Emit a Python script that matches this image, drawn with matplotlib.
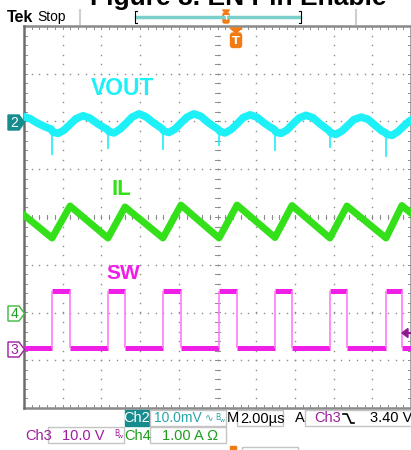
import numpy as np
import matplotlib.pyplot as plt
from matplotlib.patches import Polygon, Rectangle, FancyBboxPatch

# scope settings
t_div = 2.0                         # us / div
ch2_scale, ch2_pos = 10.0, 2.0      # mV / div  (VOUT, AC)
ch3_scale, ch3_pos = 10.0, -2.75    # V / div   (SW)
ch4_scale, ch4_pos = 1.0, -2.0      # A / div   (IL)

# SW (Ch3): edge times in us from left of screen
sw_rise = [1.45, 4.34, 7.18, 10.08, 12.97, 15.81, 18.71]
sw_fall = [2.38, 5.22, 8.11, 11.01, 13.85, 16.69, 19.53]
sw_high = 11.9
sw_low = 0.0

# IL (Ch4), A
il_t = [0.0, 1.45, 2.38, 4.34, 5.22, 7.18, 8.11, 10.08, 11.01, 12.97, 13.85,
        15.81, 16.69, 18.71, 19.53, 20.0]
il_a = [2.04, 1.56, 2.23, 1.56, 2.21, 1.56, 2.25, 1.56, 2.25, 1.57, 2.24,
        1.56, 2.23, 1.56, 2.24, 2.08]

# VOUT (Ch2), mV ripple
vout_t = [0.00, 0.31, 0.72, 1.14, 1.40, 1.50, 1.76, 2.07, 2.38, 2.69, 3.05, 3.41, 3.78, 4.14,
          4.29, 4.39, 4.65, 4.96, 5.27, 5.58, 5.94, 6.30, 6.67, 7.03,
          7.13, 7.23, 7.49, 7.80, 8.11, 8.42, 8.78, 9.14, 9.51, 9.87,
          10.03, 10.13, 10.39, 10.70, 11.01, 11.32, 11.68, 12.04, 12.41, 12.77,
          12.92, 13.02, 13.28, 13.59, 13.90, 14.21, 14.57, 14.93, 15.30, 15.66,
          15.76, 15.86, 16.12, 16.43, 16.74, 17.05, 17.41, 17.77, 18.14, 18.50,
          18.66, 18.76, 19.02, 19.33, 19.64, 19.95, 20.0]
vout_mv = [1.0, 0.6, -0.4, -1.2, -1.6, -2.2, -2.5, -1.8, -0.6, 0.6, 1.2, 0.7, -0.4, -1.3,
           -1.6, -2.1, -2.4, -1.6, -0.4, 0.9, 1.6, 1.0, -0.2, -1.2,
           -1.5, -2.0, -2.3, -1.6, -0.3, 0.9, 1.6, 1.1, -0.2, -1.2,
           -1.6, -2.1, -2.4, -1.7, -0.5, 0.8, 1.4, 0.9, -0.3, -1.3,
           -1.6, -2.2, -2.5, -1.8, -0.5, 0.7, 1.3, 0.8, -0.5, -1.6,
           -1.9, -2.4, -2.7, -2.0, -0.8, 0.4, 0.9, 0.5, -0.8, -2.0,
           -2.3, -2.7, -2.9, -2.1, -0.9, 0.2, 0.3]
# switching spikes on VOUT
spike_t = sw_rise
spike_mv = [-7.0, -5.8, -6.0, -5.2, -6.2, -5.6, -7.5]

cyan = '#1ef0f8'
green = '#33e01a'
magenta = '#f01ee6'
teal = '#178c8e'
purple = '#a01ca0'
dgreen = '#1e9e1e'
orange = '#f27a12'

fig = plt.figure(figsize=(4.11, 4.5), dpi=100)
fig.patch.set_facecolor('white')

# graticule: 10 x 8 divisions
ax = fig.add_axes([24 / 411, 42 / 450, 387 / 411, 382 / 450])
ax.set_xlim(0, 10)
ax.set_ylim(-4, 4)
ax.axis('off')

gcol = '#8c8c8c'
dx = np.arange(0, 10.001, 0.2)
dy = np.arange(-4, 4.001, 0.2)
for y in range(-3, 4):
    ax.plot(dx, np.full(len(dx), y), ls='none', marker='s', ms=1.0, mew=0, color=gcol)
for x in range(1, 10):
    ax.plot(np.full(len(dy), x), dy, ls='none', marker='s', ms=1.0, mew=0, color=gcol)
# center cross ticks
for x in dx:
    ax.plot([x, x], [-0.05, 0.05], color=gcol, lw=0.7)
for y in dy:
    ax.plot([4.93, 5.07], [y, y], color=gcol, lw=0.7)
# border ticks
for x in dx:
    ax.plot([x, x], [4, 3.94], color=gcol, lw=0.7, clip_on=False)
    ax.plot([x, x], [-4, -3.94], color=gcol, lw=0.7, clip_on=False)
for y in dy:
    ax.plot([0, 0.07], [y, y], color=gcol, lw=0.7, clip_on=False)
    ax.plot([10, 9.93], [y, y], color=gcol, lw=0.7, clip_on=False)
ax.plot([0, 10], [4, 4], color='#8a8a8a', lw=1.8, clip_on=False)
ax.plot([0, 10], [-4, -4], color='#8a8a8a', lw=1.8, clip_on=False)
ax.plot([0, 0], [-4, 4], color='#6e6e6e', lw=1.8, clip_on=False)
ax.plot([10, 10], [-4, 4], color='#8a8a8a', lw=1.8, clip_on=False)

# traces
t = np.array(vout_t) / t_div
ax.plot(t, np.array(vout_mv) / ch2_scale + ch2_pos, color=cyan, lw=5.5, solid_joinstyle='round')
ax.vlines(np.array(spike_t) / t_div, np.array(spike_mv) / ch2_scale + ch2_pos, ch2_pos - 0.2,
          color=cyan, lw=1.2)

ax.plot(np.array(il_t) / t_div, np.array(il_a) / ch4_scale + ch4_pos, color=green, lw=5,
        solid_joinstyle='round')

hi = sw_high / ch3_scale + ch3_pos
lo = sw_low / ch3_scale + ch3_pos
edges = [0.0] + sorted(sw_rise + sw_fall) + [20.0]
for i in range(len(edges) - 1):
    lev = lo if i % 2 == 0 else hi
    ax.plot([edges[i] / t_div, edges[i + 1] / t_div], [lev, lev], color=magenta, lw=3.6,
            solid_capstyle='butt')
ax.vlines(np.array(sw_rise + sw_fall) / t_div, lo, hi, color='#ff7cf6', lw=1.2)

# overlay in pixel coordinates
ov = fig.add_axes([0, 0, 1, 1])
ov.set_xlim(0, 411)
ov.set_ylim(450, 0)
ov.axis('off')

ov.text(90, 5, 'Figure 8. EN Pin Enable', fontsize=19, fontweight='bold',
        family='Liberation Sans', va='baseline', ha='left')
ov.text(7, 21.5, 'Tek', fontsize=11.5, fontweight='bold', family='Liberation Sans', va='baseline')
ov.text(37, 21, 'Stop', fontsize=10, family='Liberation Sans', va='baseline')

# record bar
ov.plot([80, 80], [10, 24], color='#cfcfcf', lw=1.5)
ov.plot([356, 356], [10, 24], color='#cfcfcf', lw=1.5)
ov.plot([136, 300], [16.5, 16.5], color='#7cd0cc', lw=2.5)
ov.plot([137, 135, 135, 137], [11, 11, 23, 23], color='k', lw=0.8)
ov.plot([299, 301, 301, 299], [11, 11, 23, 23], color='k', lw=0.8)
ov.add_patch(Polygon([[222.5, 10], [229.5, 10], [226, 13]], color=orange))
ov.add_patch(FancyBboxPatch((223, 13), 6, 10, boxstyle='round,pad=0,rounding_size=1.5',
                            color=orange))
ov.text(226, 18.5, 'T', color='white', fontsize=5, fontweight='bold', ha='center', va='center')

# trigger marker
ov.add_patch(Polygon([[230, 28], [242, 28], [236, 33]], color=orange))
ov.add_patch(FancyBboxPatch((230.5, 33), 11, 14.5, boxstyle='round,pad=0,rounding_size=2.5',
                            color=orange))
ov.text(236, 40.5, 'T', color='white', fontsize=8, fontweight='bold', ha='center', va='center')

# trigger level arrow
ov.add_patch(Polygon([[402, 333], [408, 328.5], [408, 337.5]], color='#8e1a8e'))
ov.plot([406, 411], [333, 333], color='#8e1a8e', lw=1.5)

# channel markers
def marker(yc, label, edge, fill, tcol):
    pts = [[8, yc - 7.5], [19, yc - 7.5], [24.5, yc], [19, yc + 7.5], [8, yc + 7.5]]
    ov.add_patch(Polygon(pts, closed=True, facecolor=fill, edgecolor=edge, lw=1))
    ov.text(14.5, yc + 0.5, label, color=tcol, fontsize=10, ha='center', va='center',
            family='Liberation Sans')

marker(122.5, '2', teal, teal, 'white')
marker(313.5, '4', '#3fb83f', 'white', dgreen)
marker(349.5, '3', purple, 'white', purple)

# trace labels
lab = dict(fontweight='bold', va='baseline', ha='left', family='Liberation Sans')
ov.text(91, 95, 'VOUT', color=cyan, fontsize=16.5, **lab)
ov.text(111, 195, 'IL', color=green, fontsize=16, **lab)
ov.text(106, 279, 'SW', color=magenta, fontsize=15, **lab)

# status readouts
st = dict(fontsize=10.5, va='center', family='Liberation Sans')
box = dict(fill=False, edgecolor='#c4c4c4', lw=1)
ov.add_patch(Rectangle((125, 410), 24, 16, color=teal))
ov.text(137, 418.5, 'Ch2', color='white', ha='center', **st)
ov.add_patch(Rectangle((150, 410), 76, 16, **box))
ov.text(154, 418.5, '10.0mV', color='#2aa5a8', fontsize=10, va='center', family='Liberation Sans')
ov.text(205, 418.5, '\u223f', color='#2aa5a8', fontsize=7.5, va='center', family='DejaVu Sans')
ov.text(215.5, 418, 'B', color='#2aa5a8', fontsize=5.5, va='center')
ov.text(219.5, 421, 'w', color='#2aa5a8', fontsize=4.5, va='center')
ov.text(226.5, 418.5, 'M', color='k', **st)
ov.add_patch(Rectangle((237, 410), 46, 16, **box))
ov.text(240, 418.5, '2.00\u00b5s', color='k', **st)
ov.text(295, 418.5, 'A', color='k', **st)
ov.add_patch(Rectangle((305, 410), 110, 16, **box))
ov.text(314, 418.5, 'Ch3', color=purple, **st)
ov.plot([343, 347, 351, 354], [414, 414, 423, 423], color='k', lw=1.2)
ov.text(412, 418.5, '3.40 V', color='k', ha='right', **st)

ov.text(25, 435.5, 'Ch3', color=purple, **st)
ov.add_patch(Rectangle((48, 427), 76, 16, **box))
ov.text(62, 435.5, '10.0 V', color=purple, **st)
ov.text(114, 434, 'B', color=purple, fontsize=5.5, va='center')
ov.text(118, 437, 'w', color=purple, fontsize=4.5, va='center')
ov.text(124, 435.5, 'Ch4', color=dgreen, **st)
ov.add_patch(Rectangle((150, 427), 76, 16, **box))
ov.text(162, 435.5, '1.00 A \u03a9', color=dgreen, **st)

ov.add_patch(Rectangle((230, 446), 6, 6, color=orange))
ov.add_patch(Rectangle((242, 446.5), 56, 6, **box))

fig.savefig('out.png', dpi=100)
